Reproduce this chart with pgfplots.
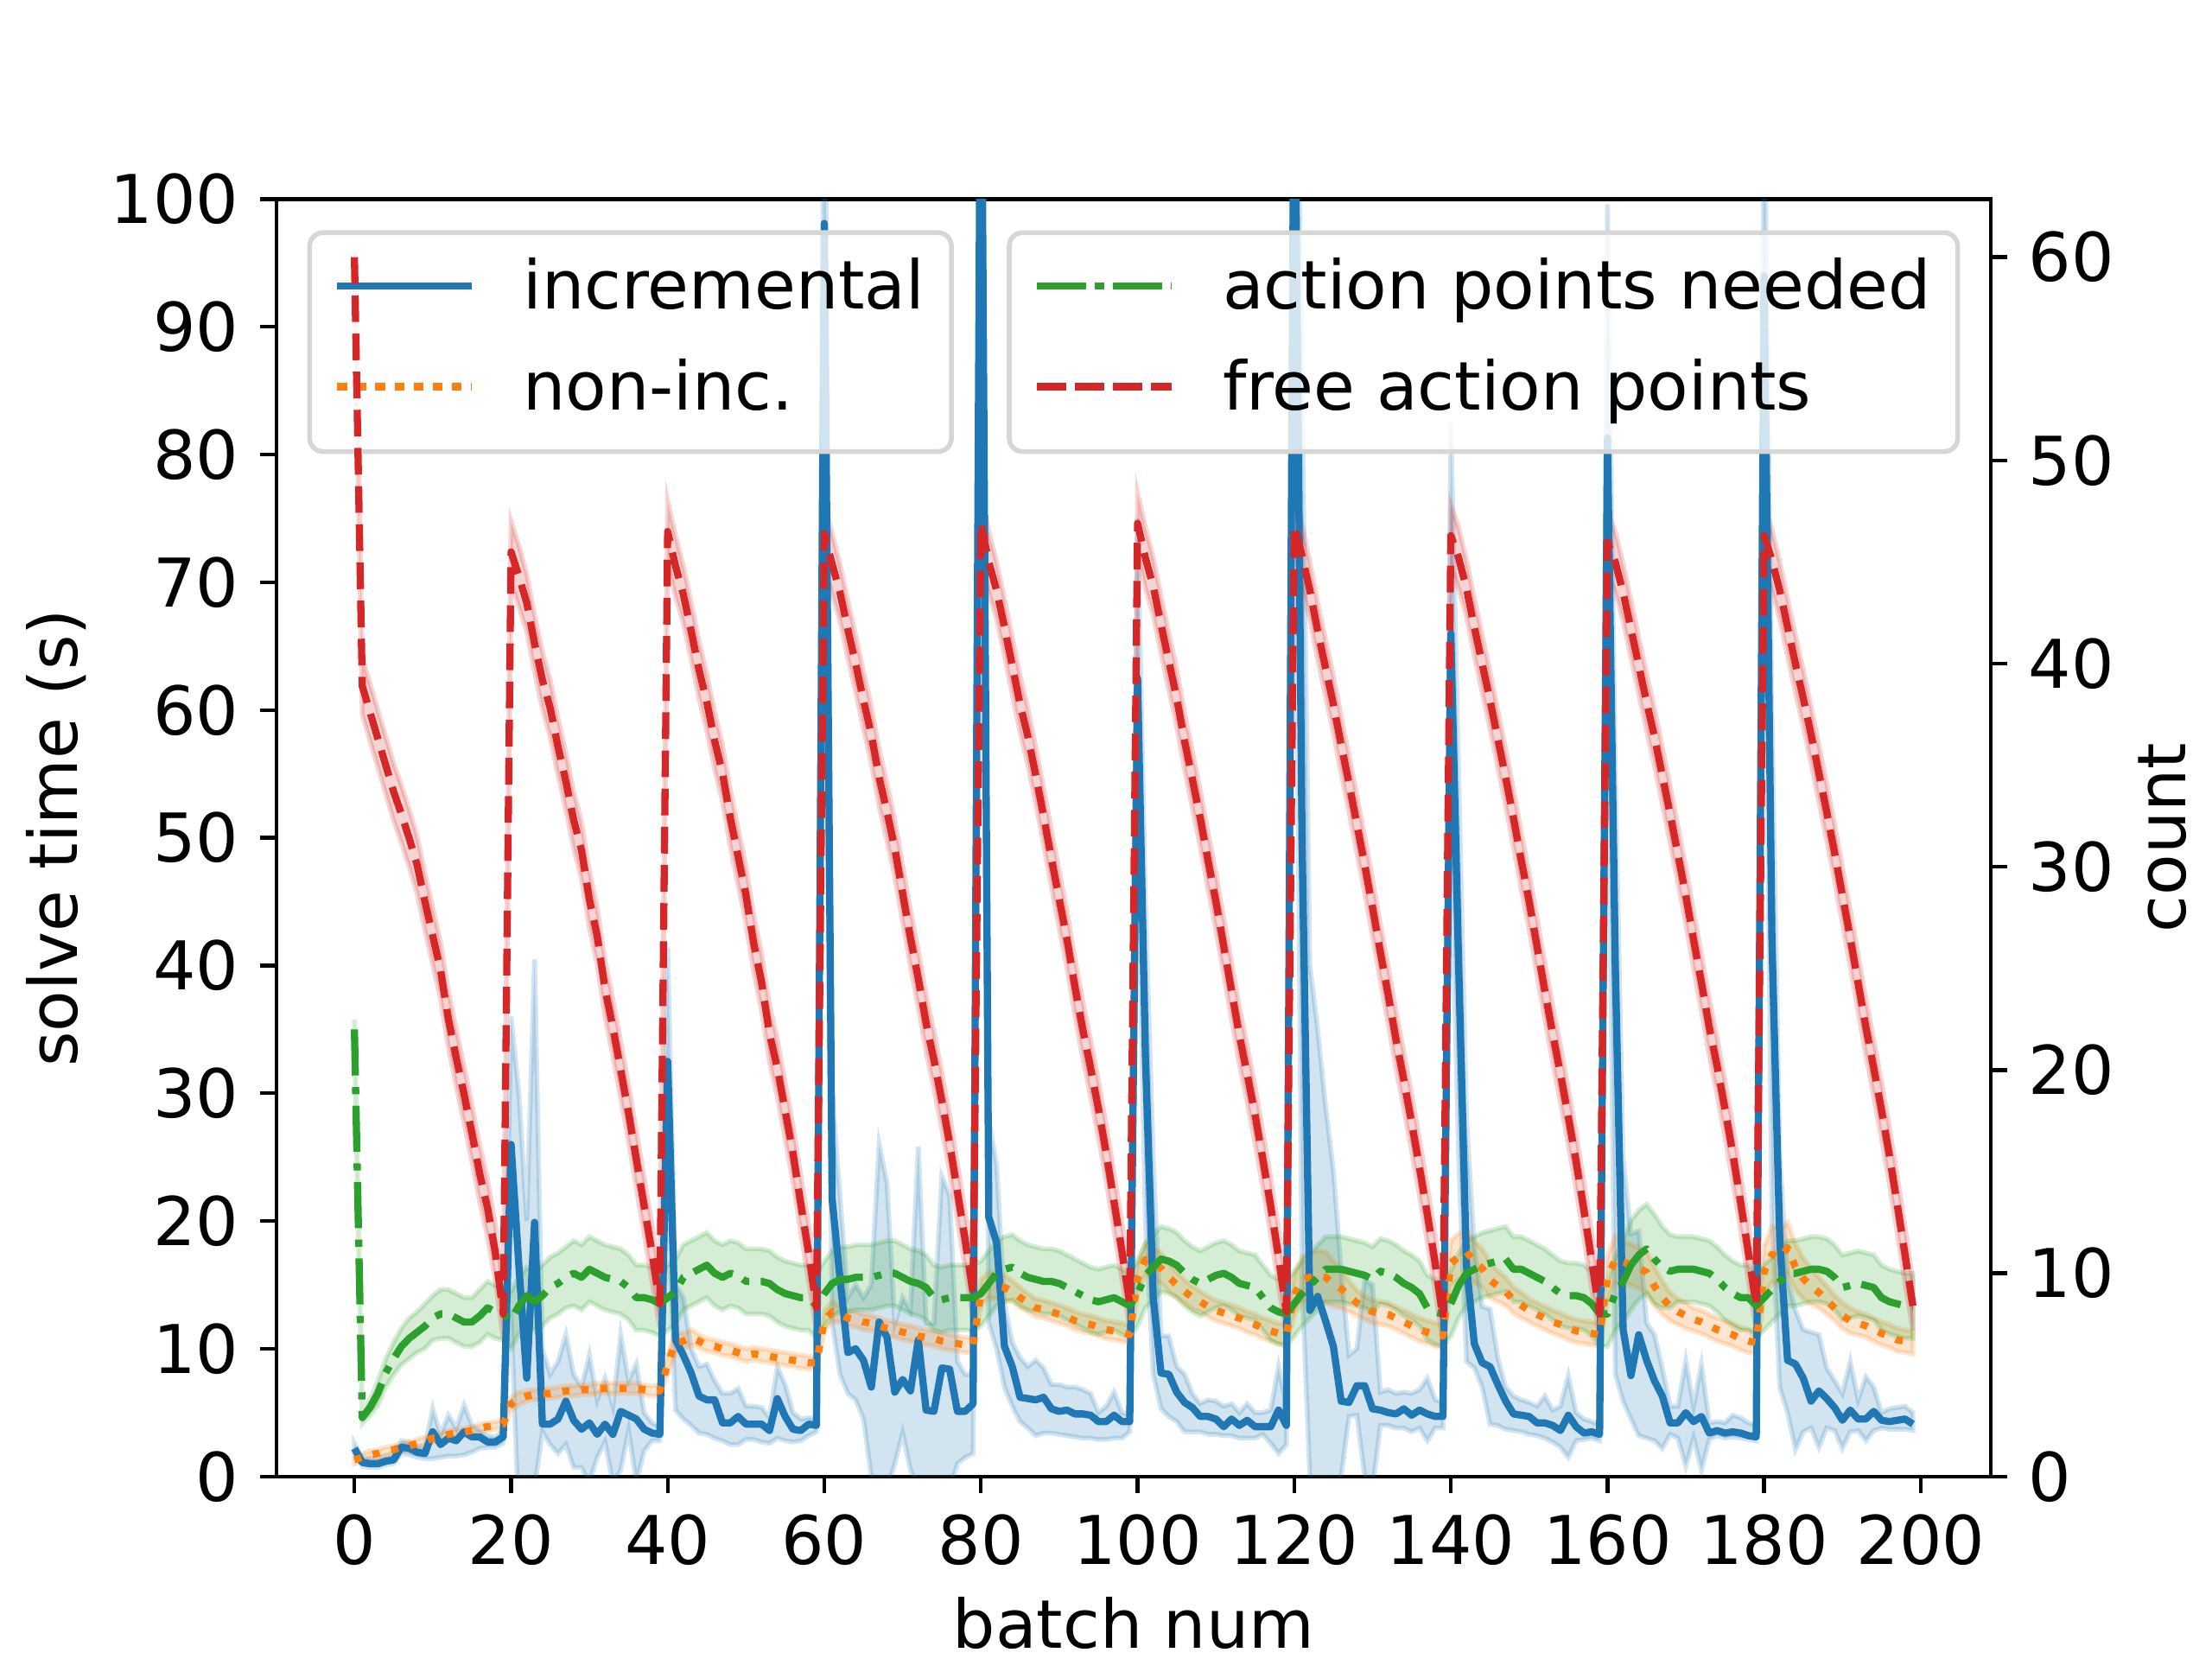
\documentclass[border=0pt]{standalone}
\usepackage{fontspec}
\setmainfont{DejaVu Sans}
\usepackage{pgfplots}
\usepackage{pgfplotstable}
\pgfplotsset{compat=1.18}
\usepgfplotslibrary{fillbetween}
\definecolor{C0}{HTML}{1F77B4}
\definecolor{C1}{HTML}{FF7F0E}
\definecolor{C2}{HTML}{2CA02C}
\definecolor{C3}{HTML}{D62728}
\newcommand{\fs}{\fontsize{14}{16.8}\selectfont}

\pgfplotstableread{
x y lo hi
0 2.2 1.9 2.6
1 1.1 0.8 1.5
2 1.0 0.7 1.4
3 1.0 0.7 1.4
4 1.2 0.9 1.6
5 1.3 1.0 1.7
6 2.3 1.8 2.8
7 2.2 1.7 2.7
8 1.9 1.5 2.4
9 1.8 1.4 2.3
10 3.5 1.4 5.3
11 2.5 1.5 3.3
12 3.0 1.6 4.8
13 2.8 1.6 3.8
14 3.5 1.7 5.6
15 3.1 1.9 4.0
16 3.1 2.2 3.6
17 2.7 2.3 3.2
18 2.7 2.3 3.1
19 3.1 2.6 3.6
20 26.0 13.0 36.0
21 16.5 -4.0 30.0
22 7.7 -3.0 20.0
23 19.9 -1.0 40.5
24 4.1 3.5 10.0
25 4.1 2.5 8.0
26 4.5 1.8 9.0
27 5.9 2.5 11.1
28 4.4 0.7 8.0
29 3.7 0.7 7.0
30 4.2 -0.5 9.5
31 3.3 1.5 6.0
32 4.1 2.7 7.7
33 3.3 -0.5 5.5
34 5.1 0.5 11.1
35 4.8 3.6 7.5
36 4.5 -0.5 8.8
37 3.7 2.0 5.0
38 3.4 2.8 4.2
39 3.3 2.8 3.9
40 32.5 22.0 41.4
41 10.7 5.2 15.0
42 9.5 4.5 14.0
43 8.1 4.0 10.0
44 6.3 3.4 8.6
45 6.0 3.3 8.8
46 6.0 3.0 7.5
47 4.2 2.8 6.5
48 4.2 2.5 6.5
49 4.7 2.5 6.9
50 4.1 2.9 5.5
51 4.1 2.9 5.5
52 4.1 2.7 5.4
53 3.6 2.6 4.6
54 6.1 3.0 8.6
55 4.7 2.8 7.2
56 3.7 2.7 5.0
57 3.6 2.8 4.5
58 4.1 3.2 4.6
59 4.0 3.5 4.5
60 98.1 75.0 120.0
61 21.7 12.0 30.0
62 15.5 8.0 22.0
63 9.7 6.5 14.0
64 10.0 6.0 15.0
65 9.1 4.5 14.0
66 7.0 0.0 15.0
67 12.1 -2.0 26.0
68 10.9 -1.0 23.0
69 6.6 1.0 12.0
70 7.6 3.4 14.0
71 6.7 0.5 13.0
72 10.7 -1.0 25.8
73 5.2 -1.0 12.0
74 5.1 -2.0 12.0
75 8.5 -1.0 23.5
76 8.4 -1.0 22.0
77 5.1 1.0 9.0
78 5.1 1.5 8.0
79 5.7 1.8 8.0
80 120.0 90.0 130.0
81 20.3 12.0 28.0
82 18.3 10.0 24.4
83 10.2 7.0 13.5
84 8.6 5.5 10.5
85 6.2 4.3 9.3
86 6.1 3.8 8.6
87 6.0 3.2 9.1
88 6.2 3.4 8.5
89 5.3 3.4 7.2
90 5.1 3.3 7.2
91 5.2 3.2 7.0
92 4.9 3.1 7.0
93 4.9 3.0 6.8
94 4.8 3.0 6.5
95 4.3 2.9 5.0
96 4.3 2.9 5.5
97 4.8 3.0 6.6
98 4.3 3.0 5.0
99 4.3 3.5 4.8
100 62.5 50.0 75.0
101 33.0 20.0 45.0
102 14.0 8.0 25.0
103 8.1 5.3 11.0
104 8.0 4.7 11.0
105 6.6 4.3 8.6
106 5.8 3.5 8.0
107 5.4 3.5 6.5
108 4.7 3.5 5.7
109 4.7 3.3 6.0
110 4.5 3.3 5.9
111 3.9 3.2 5.5
112 4.5 3.2 5.7
113 4.0 3.0 5.0
114 4.4 3.0 5.7
115 3.9 3.0 5.0
116 3.9 3.3 5.0
117 3.9 2.6 5.2
118 5.2 1.8 8.6
119 4.0 2.5 5.5
120 115.0 90.0 130.0
121 50.0 15.0 85.0
122 13.0 0.0 40.0
123 14.1 -2.0 35.0
124 12.2 -2.0 29.0
125 10.2 -1.0 24.0
126 5.9 0.0 16.0
127 5.8 4.7 9.5
128 7.1 4.8 10.0
129 7.1 0.0 15.4
130 5.3 -1.0 15.0
131 5.2 4.0 6.6
132 5.0 4.0 6.8
133 4.9 3.8 6.5
134 5.3 3.8 6.6
135 4.8 3.5 6.5
136 5.2 3.8 6.8
137 4.9 2.8 7.7
138 4.7 3.8 6.0
139 4.7 3.8 5.8
140 66.0 50.0 82.5
141 40.0 25.0 55.0
142 16.5 9.0 28.0
143 10.4 8.5 18.0
144 8.9 7.0 13.3
145 8.6 4.1 13.1
146 7.2 4.0 9.3
147 5.9 3.7 7.0
148 4.9 3.6 6.3
149 4.8 3.5 6.0
150 4.7 3.3 5.8
151 4.2 3.2 5.5
152 4.2 3.0 6.3
153 4.0 2.7 5.2
154 3.6 2.3 5.5
155 4.8 1.5 7.9
156 3.9 2.8 5.0
157 3.4 2.9 4.5
158 3.5 3.0 4.3
159 3.3 2.8 4.0
160 81.3 62.0 99.6
161 40.0 8.0 55.0
162 11.5 5.9 25.0
163 7.9 4.5 19.0
164 11.1 3.2 19.2
165 9.1 3.0 12.0
166 7.5 2.8 11.1
167 6.3 2.2 8.5
168 4.2 3.3 5.5
169 4.2 3.0 5.5
170 5.0 0.8 9.1
171 4.3 3.0 5.5
172 4.7 0.5 8.8
173 3.4 2.9 4.2
174 3.6 3.2 4.3
175 3.4 3.0 4.2
176 3.5 3.1 4.8
177 3.4 3.0 4.6
178 3.2 2.9 4.2
179 3.1 2.8 4.0
180 94.0 78.0 110.0
181 42.0 20.0 60.0
182 18.5 7.0 25.0
183 9.1 5.0 15.4
184 8.8 2.1 13.0
185 7.7 3.5 11.5
186 5.9 3.8 11.3
187 6.7 2.3 11.1
188 6.1 3.8 8.5
189 5.4 3.6 7.5
190 4.4 2.2 6.5
191 5.2 3.5 9.0
192 4.5 3.6 6.0
193 4.5 2.8 7.8
194 5.1 3.6 7.0
195 4.4 3.8 5.0
196 4.3 3.7 5.3
197 4.4 3.7 5.4
198 4.5 3.7 5.5
199 4.1 3.6 5.0
}\tinc

\pgfplotstableread{
x y e
0 1.3 0.3
1 1.5 0.3
2 1.7 0.3
3 1.8 0.3
4 2.0 0.3
5 2.1 0.3
6 2.3 0.3
7 2.4 0.3
8 2.6 0.3
9 2.8 0.3
10 3.0 0.3
11 3.1 0.3
12 3.3 0.3
13 3.4 0.3
14 3.5 0.3
15 3.6 0.3
16 3.8 0.3
17 3.9 0.3
18 4.0 0.3
19 4.1 0.3
20 5.7 0.5
21 6.1 0.5
22 6.3 0.4
23 6.4 0.4
24 6.5 0.4
25 6.5 0.4
26 6.6 0.4
27 6.7 0.4
28 6.7 0.4
29 6.8 0.4
30 6.8 0.4
31 6.9 0.4
32 6.9 0.4
33 6.9 0.4
34 6.9 0.4
35 6.9 0.4
36 6.9 0.4
37 6.8 0.4
38 6.7 0.4
39 6.7 0.4
40 8.8 0.8
41 10.5 0.8
42 10.6 0.6
43 10.9 0.6
44 10.6 0.5
45 10.3 0.5
46 10.2 0.5
47 10.0 0.5
48 9.9 0.5
49 9.7 0.5
50 9.5 0.5
51 9.6 0.5
52 9.5 0.5
53 9.4 0.5
54 9.3 0.5
55 9.2 0.5
56 9.1 0.5
57 9.0 0.5
58 8.9 0.5
59 8.9 0.5
60 12.2 0.8
61 12.9 0.8
62 12.7 0.6
63 12.4 0.6
64 12.3 0.6
65 12.1 0.6
66 12.0 0.6
67 11.8 0.6
68 11.6 0.6
69 11.5 0.6
70 11.3 0.6
71 11.2 0.6
72 11.0 0.6
73 10.9 0.6
74 10.8 0.6
75 10.6 0.6
76 10.5 0.6
77 10.4 0.6
78 10.3 0.6
79 10.3 0.6
80 14.4 1.0
81 15.0 1.0
82 14.9 1.0
83 14.8 1.0
84 14.5 0.8
85 14.0 0.8
86 13.6 0.7
87 13.2 0.7
88 13.1 0.7
89 12.9 0.7
90 12.7 0.7
91 12.5 0.7
92 12.2 0.7
93 12.0 0.7
94 11.9 0.7
95 11.7 0.7
96 11.5 0.7
97 11.4 0.7
98 11.3 0.7
99 11.1 0.7
100 15.5 1.2
101 17.0 1.2
102 16.7 1.2
103 16.3 1.2
104 15.6 1.1
105 15.0 1.0
106 14.5 0.9
107 14.0 0.9
108 13.7 0.8
109 13.3 0.8
110 13.0 0.8
111 12.8 0.8
112 12.6 0.8
113 12.4 0.8
114 12.1 0.8
115 11.9 0.8
116 11.6 0.8
117 11.4 0.8
118 11.2 0.8
119 11.1 0.8
120 14.2 1.6
121 15.4 1.8
122 15.6 1.8
123 15.7 2.0
124 15.6 2.0
125 15.1 1.8
126 14.7 1.5
127 14.1 1.2
128 13.6 1.0
129 13.2 0.9
130 12.9 0.9
131 12.8 0.9
132 12.7 0.9
133 12.4 0.9
134 12.1 0.9
135 11.8 0.9
136 11.5 0.9
137 11.3 0.9
138 11.1 0.9
139 11.0 0.9
140 16.7 1.8
141 17.2 1.8
142 17.6 1.8
143 16.8 1.6
144 16.3 1.5
145 15.4 1.4
146 14.9 1.2
147 14.5 1.1
148 13.8 1.0
149 13.4 1.0
150 13.0 0.9
151 12.7 0.9
152 12.4 0.9
153 12.1 0.9
154 11.9 0.9
155 11.6 0.9
156 11.4 0.9
157 11.3 0.9
158 11.2 0.9
159 11.1 0.9
160 15.5 1.8
161 17.0 1.8
162 16.8 1.6
163 16.6 1.6
164 16.3 1.6
165 16.0 1.6
166 14.9 1.5
167 14.0 1.3
168 13.3 1.1
169 12.9 1.0
170 12.6 1.0
171 12.3 0.9
172 12.1 0.9
173 11.8 0.9
174 11.5 0.9
175 11.3 0.9
176 11.1 0.9
177 10.8 0.9
178 10.6 0.9
179 10.5 0.9
180 16.0 2.0
181 17.4 2.2
182 17.1 2.2
183 17.9 2.0
184 16.4 1.8
185 15.5 1.6
186 14.9 1.4
187 14.4 1.2
188 13.8 1.1
189 13.2 1.0
190 12.6 1.0
191 12.2 1.0
192 12.0 0.9
193 11.8 0.9
194 11.5 0.9
195 11.2 0.9
196 11.0 0.9
197 10.7 0.9
198 10.6 0.9
199 10.5 0.9
}\tnon

\pgfplotstableread{
x y e
0 22.0 0.5
1 2.9 0.3
2 3.4 0.4
3 4.1 0.6
4 5.1 0.7
5 5.8 0.8
6 6.4 0.9
7 6.8 1.0
8 7.1 1.0
9 7.4 1.1
10 7.8 1.1
11 8.0 1.2
12 8.0 1.2
13 7.8 1.2
14 7.6 1.2
15 7.6 1.2
16 7.9 1.3
17 8.3 1.3
18 8.1 1.3
19 8.0 1.3
20 7.7 1.4
21 8.4 1.4
22 8.9 1.4
23 8.6 1.4
24 8.9 1.5
25 9.3 1.5
26 9.5 1.5
27 9.8 1.5
28 10.0 1.6
29 9.8 1.6
30 10.2 1.6
31 10.0 1.6
32 9.8 1.6
33 9.7 1.6
34 9.6 1.6
35 9.3 1.6
36 8.8 1.6
37 8.8 1.6
38 8.7 1.6
39 8.5 1.6
40 8.8 1.6
41 9.1 1.6
42 9.8 1.6
43 10.0 1.6
44 10.2 1.6
45 10.4 1.6
46 10.0 1.6
47 9.8 1.6
48 10.0 1.6
49 9.9 1.6
50 9.6 1.6
51 9.6 1.6
52 9.6 1.6
53 9.5 1.6
54 9.2 1.6
55 9.0 1.6
56 8.9 1.6
57 8.8 1.6
58 8.8 1.6
59 8.4 1.6
60 9.0 1.6
61 9.5 1.6
62 9.7 1.6
63 9.7 1.6
64 9.8 1.6
65 9.8 1.6
66 9.8 1.6
67 9.9 1.6
68 10.0 1.6
69 10.0 1.6
70 9.8 1.6
71 9.6 1.6
72 9.5 1.6
73 9.3 1.6
74 8.8 1.6
75 8.7 1.6
76 8.8 1.6
77 8.8 1.6
78 8.8 1.6
79 8.8 1.6
80 9.0 1.6
81 9.5 1.6
82 10.0 1.6
83 10.2 1.6
84 10.3 1.6
85 10.0 1.6
86 9.8 1.6
87 9.7 1.6
88 9.6 1.6
89 9.6 1.6
90 9.5 1.6
91 9.3 1.6
92 9.1 1.6
93 8.9 1.6
94 8.7 1.6
95 8.6 1.6
96 8.7 1.6
97 8.8 1.6
98 8.6 1.6
99 8.4 1.6
100 9.0 1.6
101 9.9 1.6
102 10.3 1.6
103 10.7 1.6
104 10.6 1.6
105 10.4 1.6
106 10.0 1.6
107 9.7 1.6
108 9.5 1.6
109 9.7 1.6
110 9.9 1.6
111 10.0 1.6
112 9.8 1.6
113 9.5 1.6
114 9.4 1.6
115 9.3 1.6
116 8.8 1.6
117 8.3 1.6
118 8.1 1.6
119 8.0 1.6
120 8.5 1.6
121 9.0 1.6
122 9.4 1.6
123 9.8 1.6
124 10.2 1.6
125 10.2 1.6
126 10.2 1.6
127 10.1 1.6
128 10.0 1.6
129 9.9 1.6
130 9.7 1.6
131 10.1 1.6
132 10.0 1.6
133 9.8 1.6
134 9.5 1.6
135 9.3 1.6
136 9.0 1.6
137 8.3 1.6
138 8.1 1.6
139 8.0 1.6
140 8.5 1.6
141 9.4 1.6
142 10.0 1.6
143 10.2 1.6
144 10.4 1.6
145 10.5 1.6
146 10.6 1.6
147 10.7 1.6
148 10.2 1.6
149 10.2 1.6
150 10.0 1.6
151 9.8 1.6
152 9.6 1.6
153 9.3 1.6
154 9.0 1.6
155 8.9 1.6
156 8.9 1.6
157 8.8 1.6
158 8.5 1.6
159 8.0 1.6
160 8.0 1.6
161 9.0 1.8
162 9.6 2.0
163 10.4 2.2
164 10.9 2.2
165 11.2 2.2
166 10.7 2.2
167 10.3 2.0
168 10.1 1.8
169 10.2 1.6
170 10.2 1.6
171 10.2 1.6
172 10.1 1.6
173 10.0 1.6
174 9.7 1.6
175 9.3 1.6
176 9.0 1.6
177 8.8 1.6
178 8.8 1.6
179 8.4 1.6
180 8.8 1.6
181 9.2 1.6
182 9.6 1.6
183 10.0 1.6
184 10.0 1.6
185 10.1 1.6
186 10.2 1.6
187 10.2 1.6
188 10.1 1.6
189 9.8 1.6
190 9.3 1.6
191 9.4 1.6
192 9.5 1.6
193 9.4 1.6
194 9.3 1.6
195 8.8 1.6
196 8.6 1.6
197 8.5 1.6
198 8.4 1.6
199 8.4 1.6
}\tact

\pgfplotstableread{
x y e
0 60.0 0.3
1 38.9 1.4
2 37.6 1.4
3 36.3 1.4
4 35.0 1.4
5 33.7 1.4
6 32.6 1.4
7 31.4 1.4
8 30.1 1.4
9 28.3 1.4
10 26.6 1.4
11 24.9 1.4
12 22.5 1.4
13 20.6 1.4
14 18.8 1.4
15 16.9 1.4
16 14.9 1.4
17 13.2 1.4
18 11.0 1.4
19 8.0 1.2
20 45.5 1.5
21 44.3 1.5
22 43.0 1.4
23 41.0 1.4
24 39.2 1.4
25 37.8 1.4
26 35.9 1.4
27 34.2 1.4
28 32.3 1.4
29 30.8 1.4
30 28.4 1.4
31 26.6 1.4
32 24.0 1.4
33 22.1 1.4
34 20.0 1.4
35 17.9 1.4
36 15.6 1.4
37 13.3 1.4
38 11.0 1.4
39 8.5 1.2
40 46.5 1.5
41 44.8 1.5
42 43.4 1.4
43 41.6 1.4
44 39.7 1.4
45 38.1 1.4
46 36.2 1.4
47 34.6 1.4
48 32.4 1.4
49 30.5 1.4
50 28.6 1.4
51 26.2 1.4
52 24.3 1.4
53 21.8 1.4
54 20.1 1.4
55 18.0 1.4
56 15.9 1.4
57 13.4 1.4
58 11.0 1.4
59 8.3 1.2
60 46.4 1.5
61 44.9 1.5
62 43.5 1.4
63 41.7 1.4
64 40.0 1.4
65 38.2 1.4
66 36.5 1.4
67 34.4 1.4
68 32.7 1.4
69 30.9 1.4
70 28.7 1.4
71 26.5 1.4
72 24.5 1.4
73 22.3 1.4
74 20.5 1.4
75 18.5 1.4
76 16.4 1.4
77 14.0 1.4
78 11.6 1.4
79 9.0 1.2
80 46.9 1.5
81 45.0 1.5
82 43.6 1.4
83 41.8 1.4
84 39.9 1.4
85 38.0 1.4
86 36.4 1.4
87 34.5 1.4
88 32.5 1.4
89 30.4 1.4
90 28.4 1.4
91 26.4 1.4
92 24.1 1.4
93 22.0 1.4
94 20.1 1.4
95 18.1 1.4
96 15.9 1.4
97 13.5 1.4
98 11.1 1.4
99 8.5 1.2
100 46.9 1.5
101 45.2 1.5
102 43.8 1.4
103 41.9 1.4
104 40.1 1.4
105 38.3 1.4
106 36.2 1.4
107 34.3 1.4
108 32.4 1.4
109 30.3 1.4
110 28.3 1.4
111 26.1 1.4
112 23.9 1.4
113 21.7 1.4
114 19.8 1.4
115 17.8 1.4
116 15.6 1.4
117 13.3 1.4
118 10.8 1.4
119 8.1 1.2
120 46.8 1.5
121 45.3 1.5
122 43.6 1.4
123 41.6 1.4
124 39.8 1.4
125 38.0 1.4
126 36.0 1.4
127 34.1 1.4
128 32.1 1.4
129 30.1 1.4
130 28.0 1.4
131 25.8 1.4
132 23.7 1.4
133 21.5 1.4
134 19.5 1.4
135 17.4 1.4
136 15.2 1.4
137 12.9 1.4
138 10.5 1.4
139 7.8 1.2
140 46.3 1.5
141 45.2 1.5
142 43.7 1.4
143 41.8 1.4
144 40.0 1.4
145 38.2 1.4
146 36.3 1.4
147 34.4 1.4
148 32.4 1.4
149 30.3 1.4
150 28.3 1.4
151 26.1 1.4
152 23.9 1.4
153 21.8 1.4
154 19.8 1.4
155 17.7 1.4
156 15.5 1.4
157 13.1 1.4
158 10.6 1.4
159 8.0 1.2
160 46.0 1.5
161 45.0 1.5
162 43.5 1.4
163 41.7 1.4
164 39.9 1.4
165 38.1 1.4
166 36.4 1.4
167 34.5 1.4
168 32.6 1.4
169 30.6 1.4
170 28.6 1.4
171 26.4 1.4
172 24.3 1.4
173 22.1 1.4
174 20.2 1.4
175 18.1 1.4
176 15.9 1.4
177 13.5 1.4
178 11.0 1.4
179 8.4 1.2
180 46.3 1.5
181 45.1 1.5
182 43.6 1.4
183 41.8 1.4
184 40.0 1.4
185 38.3 1.4
186 36.5 1.4
187 34.6 1.4
188 32.7 1.4
189 30.7 1.4
190 28.6 1.4
191 26.5 1.4
192 24.3 1.4
193 22.1 1.4
194 20.1 1.4
195 18.0 1.4
196 15.8 1.4
197 13.4 1.4
198 10.9 1.4
199 8.4 1.2
}\tfree

\pgfplotsset{
  common/.style={
    at={(0pt,0pt)}, anchor=south west,
    scale only axis, width=357.12pt, height=266.112pt,
    xmin=-9.95, xmax=208.95,
    tick align=outside, major tick length=3.5pt,
    tick style={line width=0.8pt, black},
    axis line style={line width=0.8pt},
    tick label style={font=\fs, inner sep=0pt},
    xticklabel shift=4.2pt, yticklabel shift=4.2pt,
    /pgf/number format/assume math mode=true,
    legend cell align=left,
    legend style={font=\fs, draw=black!16, line width=1pt, rounded corners=2.8pt,
      fill=white, fill opacity=0.8, text opacity=1,
      inner xsep=5.6pt, inner ysep=5.3pt, row sep=7pt, column sep=10pt,
      nodes={inner sep=0pt, text height=10.64pt, text depth=3.36pt}},
    legend image code/.code={\draw[##1, overlay] (0pt,1.2pt) -- (28pt,1.2pt);
      \path (0.6pt,1.2pt) -- (28pt,1.2pt);},
  },
  band/.style={fill=#1, fill opacity=0.2, draw=#1, draw opacity=0.2, line width=1pt, forget plot},
}

\begin{document}
\begin{tikzpicture}
\begin{axis}[common,
  ymin=0, ymax=100,
  xtick={0,20,...,200}, ytick={0,10,...,100},
  tick pos=left,
  xlabel={batch num}, ylabel={solve time (s)},
  every axis x label/.style={at={(axis description cs:0.5,0)}, yshift=-35.8pt, anchor=base, inner sep=0pt, font=\fs},
  every axis y label/.style={at={(axis description cs:0,0.5)}, xshift=-41.5pt, rotate=90, anchor=base, inner sep=0pt, font=\fs},
  legend style={at={(0,1)}, anchor=north west, xshift=6.4pt, yshift=-6.5pt},
]
\addplot[C0, line width=1.5pt, line join=round] table[x=x, y=y]{\tinc};
\addlegendentry{incremental}
\addplot[draw=none, forget plot, name path=incU] table[x=x, y=hi]{\tinc};
\addplot[draw=none, forget plot, name path=incL] table[x=x, y=lo]{\tinc};
\addplot[band=C0] fill between[of=incU and incL];

\addplot[C1, line width=1.5pt, line join=round, dash pattern=on 1.5pt off 2.475pt] table[x=x, y=y]{\tnon};
\addlegendentry{non-inc.}
\addplot[draw=none, forget plot, name path=nonU] table[x=x, y expr=\thisrow{y}+\thisrow{e}]{\tnon};
\addplot[draw=none, forget plot, name path=nonL] table[x=x, y expr=\thisrow{y}-\thisrow{e}]{\tnon};
\addplot[band=C1] fill between[of=nonU and nonL];
\end{axis}

\begin{axis}[common,
  ymin=0, ymax=62.86,
  axis x line=none, axis y line*=right,
  ytick={0,10,...,60},
  ylabel={count},
  every axis y label/.style={at={(axis description cs:1,0.5)}, xshift=40.5pt, rotate=90, anchor=base, inner sep=0pt, font=\fs},
  legend style={at={(1,1)}, anchor=north east, xshift=-6.4pt, yshift=-6.5pt},
]
\addplot[C2, line width=1.5pt, line join=round, dash pattern=on 9.6pt off 2.4pt on 1.5pt off 2.4pt] table[x=x, y=y]{\tact};
\addlegendentry{action points needed}
\addplot[draw=none, forget plot, name path=actU] table[x=x, y expr=\thisrow{y}+\thisrow{e}]{\tact};
\addplot[draw=none, forget plot, name path=actL] table[x=x, y expr=\thisrow{y}-\thisrow{e}]{\tact};
\addplot[band=C2] fill between[of=actU and actL];

\addplot[C3, line width=1.5pt, line join=round, dash pattern=on 5.55pt off 2.4pt] table[x=x, y=y]{\tfree};
\addlegendentry{free action points}
\addplot[draw=none, forget plot, name path=freeU] table[x=x, y expr=\thisrow{y}+\thisrow{e}]{\tfree};
\addplot[draw=none, forget plot, name path=freeL] table[x=x, y expr=\thisrow{y}-\thisrow{e}]{\tfree};
\addplot[band=C3] fill between[of=freeU and freeL];
\end{axis}
\path (-57.6pt,-38.016pt) rectangle (403.2pt,307.584pt);
\end{tikzpicture}
\end{document}
